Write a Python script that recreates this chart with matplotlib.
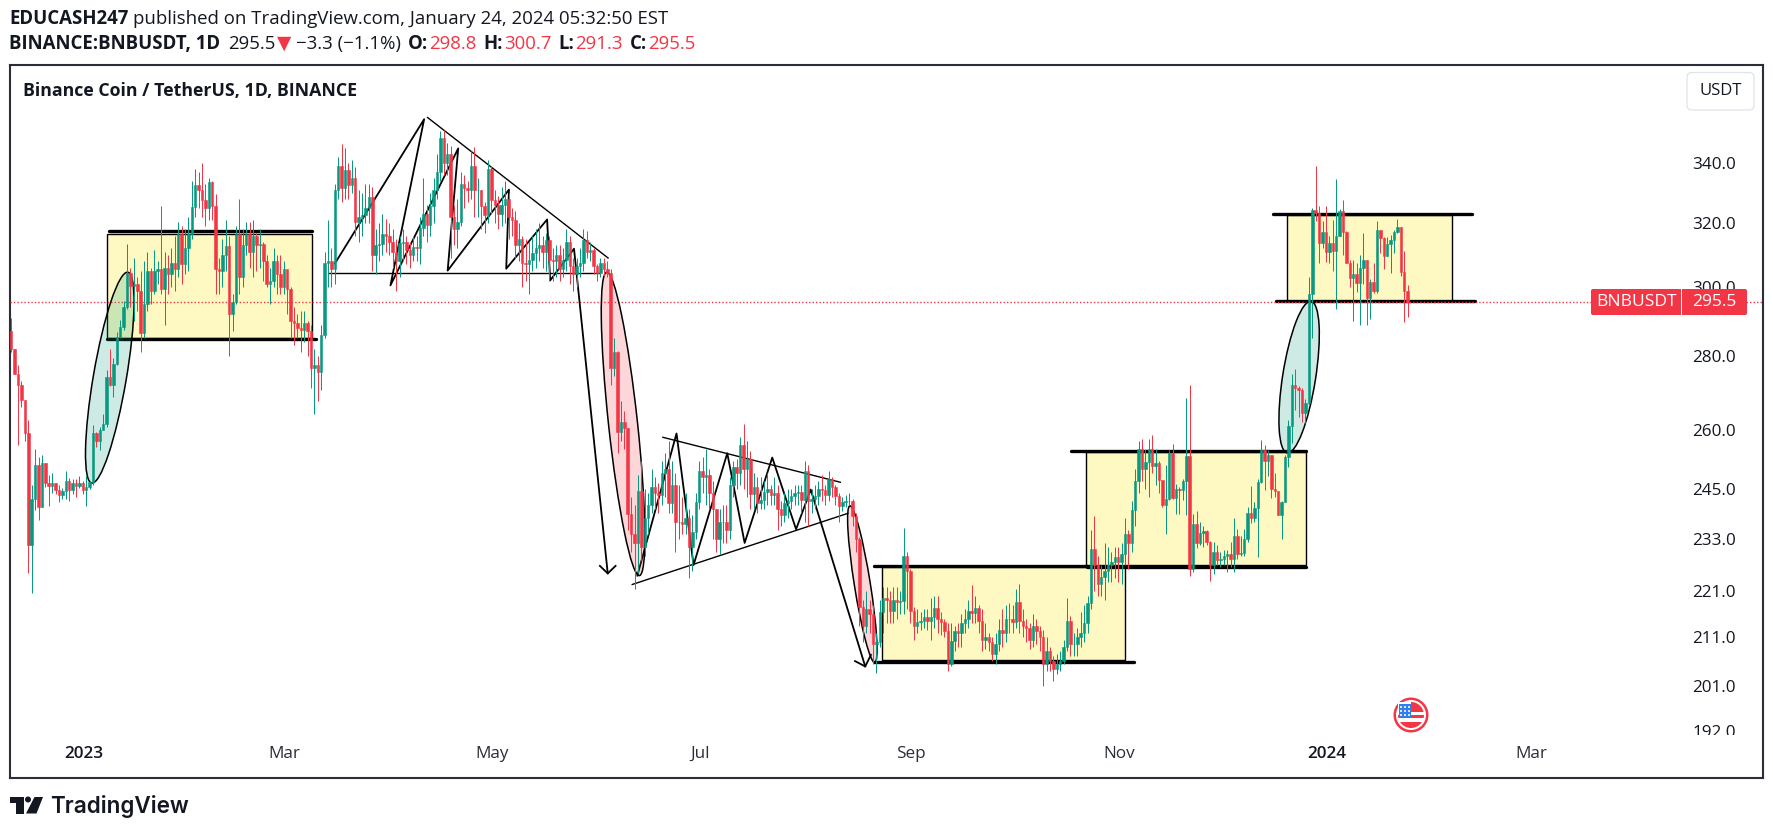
import numpy as np
import matplotlib
matplotlib.use('Agg')
import matplotlib.pyplot as plt
from matplotlib.patches import Rectangle, Ellipse, Circle, Polygon, FancyBboxPatch
from matplotlib.transforms import Affine2D, IdentityTransform

W, H = 1773, 833
plt.rcParams['font.family'] = ['Open Sans', 'DejaVu Sans']

# daily closes, highs, lows (BNBUSDT, last bar is 24 Jan 2024)
closes = [
    282, 275, 272, 268, 259, 231.5, 242.5, 251, 240.5, 251.5,
    246.4, 245.7, 246.4, 244.6, 243.4, 244.4, 247, 244.6, 246.4, 245.7,
    246.4, 244.6, 245.4, 246.6, 259, 257, 260, 261.4, 274, 272,
    277.8, 285.3, 288.4, 294, 304.5, 300.5, 301, 299, 286.5, 295,
    305, 299, 305, 305.5, 299.5, 306, 304, 307.5, 305.5, 316.5,
    307, 312, 316.5, 325.4, 332.5, 331, 327.5, 325, 333.5, 325.5,
    305.5, 305, 310, 312.7, 292, 295.5, 316.5, 303, 313, 316.5,
    311, 316, 313, 313.5, 308, 301, 302, 308, 304, 300,
    305.5, 299.5, 290, 289.5, 288, 287.5, 289.5, 287, 276.5, 277.5,
    275.5, 286, 307.5, 308, 305.5, 331, 339, 331.5, 337.5, 332.5,
    335, 320.5, 322, 322.5, 325, 328.5, 310, 313, 313.5, 316.5,
    316, 314, 311, 308, 313.7, 314, 311.5, 310, 312.5, 312,
    318.5, 323, 319.5, 325.5, 331, 337, 348.5, 340, 343, 322,
    318, 320.5, 333, 331.5, 331, 339, 331, 331, 325.5, 322.5,
    338, 327.5, 326, 323, 326, 328, 322, 321, 313, 315,
    307.5, 307, 308.5, 310.5, 312, 313, 311, 314.5, 308.5, 308,
    310, 305.5, 308.5, 314, 306.5, 304, 306.5, 307.5, 314.5, 311,
    311.5, 306.5, 304.5, 307.5, 305.5, 304.5, 276.5, 281, 259.5, 262,
    260.5, 238.9, 234, 232, 244.5, 231, 238, 241, 245.5, 244,
    243.5, 249, 250, 241.6, 246, 237, 237, 236.5, 238, 231,
    234.5, 241.7, 249.5, 248, 248.5, 244, 240, 233, 237, 237,
    235, 246, 250.3, 249, 256, 250, 252.5, 243.7, 245.5, 241.5, 242.3,
    244.2, 245, 243.5, 244, 240, 238.5, 241.5, 242, 243.3, 244,
    244.1, 242.3, 249.5, 242, 242.5, 243.3, 245, 244.8, 243.5, 247.5,
    245.5, 243.3, 240.7, 241.7, 242, 242, 238.3, 233, 217.5, 213.5,
    217, 216, 209.5, 210, 216.5, 219.5, 219, 216.7, 219, 218.7, 218.9,
    229, 225.5, 216.7, 213.5, 214.3, 214.5, 215.3, 214.5, 215.3, 217.3,
    215, 214.2, 212.4, 205.5, 210.3, 212.4, 212, 214, 215, 216.7,
    216.3, 217.3, 214.5, 210.5, 211, 210, 207.5, 209.6, 212.6, 211.8,
    215, 214.8, 214.3, 218.6, 214.4, 213.5, 213, 210.4, 213.5, 212.3,
    211, 205.4, 208, 206, 204.3, 205.4, 206, 209, 214.5, 209.5,
    209.5, 211, 212, 214, 218.3, 230.5, 226.8, 222.7, 224.1, 225.5,
    227, 227.5, 228.8, 227.7, 229.5, 234, 232, 239.7, 247, 255,
    250, 251.7, 255, 250.7, 251.5, 247.2, 241, 242.4,
    253.9, 242.7, 245, 244.8, 246.9, 253.3, 226, 236.5, 232, 234.3,
    234.7, 232.2, 226.9, 230, 228, 228.2, 229, 229.5, 228.3, 233.7,
    229.5, 229.7, 233, 239.2, 237.8, 240.2, 246.7, 254.7, 251.9, 253.4,
    245, 244.4, 238.7, 241.7, 253, 261, 272, 271, 270.7, 264.5,
    267, 298, 324.2, 323.2, 313.8, 317.3, 311, 313.6, 311.2, 316,
    324, 317.3, 307.6, 302.8, 304, 301.3, 306, 308.3, 296.7, 301.7,
    299, 317.8, 315.2, 309.7, 313.3, 314.7, 317.3, 318.8, 304.7, 298.8,
    295.5,
]
highs = [
    291, 282, 277.5, 273, 268, 262.5, 246, 255, 253, 253.5,
    251.5, 248.4, 248.8, 246.4, 245.9, 245.2, 249.3, 247.7, 247.3, 247.3,
    248.2, 246.8, 248.5, 246.9, 261.2, 259.4, 260.8, 264, 276, 282,
    279.5, 286.8, 290.3, 296, 313.5, 306, 309, 303, 305, 308,
    311, 306, 311.5, 308, 325.5, 311, 310, 312, 316, 320.5,
    319, 318, 322, 334, 338, 337, 340, 333, 335, 334,
    329.5, 309, 315, 321, 316, 298, 319, 328, 318, 320.5,
    320.5, 321, 317, 318, 314, 310, 306, 312, 310, 310,
    308, 305, 300, 294, 292, 293, 293, 290, 289, 282,
    280, 289, 311, 321, 312, 333, 342, 346.7, 345, 340,
    341, 338.5, 331, 330, 333, 333, 332, 318, 320, 323,
    321.5, 320, 318, 315, 316, 318, 316, 314, 316, 316,
    322, 335, 326, 330, 335, 343, 351, 351.5, 347, 346,
    326, 328, 337, 336, 334, 344, 345.5, 335, 331, 327,
    341, 339, 331, 329, 332, 334, 330, 325, 324, 320,
    316, 315, 314, 316, 318, 320, 316, 317, 316, 312,
    313, 313, 312, 318, 316, 309, 309, 312, 318, 317.6,
    314, 312, 307, 309, 309, 308, 305.5, 285, 281.5, 267.5,
    265, 260.5, 243, 241, 248.4, 252, 245, 244, 250, 248,
    246.5, 252, 254, 257, 252, 249, 246, 243, 244, 240,
    238.5, 244, 252, 253, 255, 250, 247, 240, 240, 241,
    241, 248, 252, 252.5, 258, 261.5, 257, 254.5, 249, 248, 248,
    247, 249, 246, 248, 246, 242, 244, 245, 245, 246,
    246, 246, 252, 251, 245, 246, 247, 248.5, 246, 249.5,
    248, 246, 244, 243, 243.5, 244, 242.5, 239, 233.5, 219,
    221, 219, 218, 212, 219, 222, 222, 221, 222, 222, 221,
    235.5, 230, 226, 217.5, 217, 216.5, 217, 217, 219.6, 220,
    220, 216.5, 215, 214, 214, 213.5, 214, 216, 217, 219,
    222.4, 220, 218, 217, 214, 212, 211, 212, 215, 217,
    218, 218.5, 218, 221.5, 222.5, 217, 215, 214, 216, 215,
    213.5, 212.5, 211, 209, 207, 207.5, 208, 210.5, 219.5, 215.5,
    212, 213, 216.5, 218, 220, 235, 238.4, 229, 227, 232,
    231, 230, 231, 231, 232, 238, 235, 242, 250, 257,
    257.5, 255, 257.5, 258.5, 255, 252, 247.2, 251,
    254.7, 256.2, 246.2, 245.5, 247.3, 268.5, 272, 238.8, 239.6, 237,
    236, 235, 232.5, 232.2, 231.5, 230, 230.4, 230.4, 232.2, 237.8,
    235.3, 233.7, 235.3, 240.5, 245.7, 241.8, 247.4, 257.4, 256, 254.7,
    253.4, 248.9, 244.4, 242.1, 253.4, 262.6, 274.9, 276.4, 271.6, 271.2,
    268.2, 303, 324.8, 339, 325.7, 320.8, 325.7, 316, 321, 334.4,
    324.5, 327.4, 317.5, 308.4, 308.4, 307.3, 310, 317, 308.3, 302.5,
    307.3, 320.8, 317.8, 315.7, 315.7, 316.3, 317.8, 321.4, 318.8, 311.2,
    300.7,
]
lows = [
    281, 275, 256, 266, 257, 225, 220.5, 239.8, 237.3, 240.5,
    245.5, 240.8, 244, 243.8, 241.7, 242.4, 242.4, 242, 243.6, 243,
    245.2, 243.8, 240.8, 245, 246, 255.6, 254.8, 259.8, 260.8, 271.7,
    268.6, 277.5, 285, 287.5, 293.5, 294, 290, 293, 281, 285,
    293, 295, 298, 301, 298, 289, 298, 300, 299, 303,
    301, 304, 305, 315, 322, 325, 322, 319, 321, 321,
    298, 298, 300, 305, 280, 287, 295, 298, 300, 310,
    306, 303, 305, 306, 302, 300, 295, 300, 298, 298,
    298, 292, 285, 283, 285, 281, 284, 280, 271, 264,
    267.5, 270.5, 285, 300, 300, 301, 328, 327, 328, 328,
    330, 316, 314, 316, 320, 320, 305, 304, 308, 310,
    311, 310, 306, 299, 303, 308, 307, 306, 308, 308,
    307, 316, 314, 316, 320, 328, 334, 336, 336, 309,
    313, 312, 319, 325, 327, 328, 322, 322, 318, 317,
    320, 323, 320, 318, 319, 320, 315, 316, 309, 308,
    300, 302, 298, 305, 306, 308, 306, 305, 302, 302,
    303, 302, 303, 305, 301, 299, 300, 303, 305, 309,
    308, 304, 302, 303, 303.5, 303, 272, 274.5, 254, 257,
    255, 235, 230, 221.5, 225, 228, 229, 234, 239, 240,
    239, 241, 243, 239, 239, 230, 233, 234, 234, 224,
    225.5, 233, 240, 244, 241, 240, 233, 230, 229.5, 232,
    232, 233, 243, 245, 246, 245, 243, 240, 240, 239, 240,
    240, 241, 241, 241, 235, 236, 237, 238, 240, 241,
    241, 239, 237, 236, 239, 240, 241, 242, 241, 242,
    243, 241, 237, 239.5, 240.5, 241, 236, 230, 213.3, 210,
    212, 212, 205.5, 203.5, 209, 212, 214, 214, 214, 215, 216,
    216, 217, 214, 210.5, 212, 212.5, 213, 212.5, 210.5, 213,
    212, 211.5, 211, 204, 205, 208, 209, 209, 212, 213,
    214, 214, 212, 208, 208.5, 208, 206, 205.5, 208, 209,
    210, 212, 212, 213, 212, 211, 210, 208.5, 209, 209.5,
    208, 201, 204, 204, 202, 203.4, 204, 205.5, 208, 207,
    207, 207, 209, 210, 212, 217, 221, 220, 220, 219,
    223, 223, 224, 223, 222.5, 227, 226, 230, 236, 244,
    247, 245, 243, 249, 246, 244, 240.5, 234,
    242.3, 242.5, 238.8, 238.8, 242.3, 238.7, 224.5, 225.3, 230.8, 231.5,
    231, 231.5, 223.2, 224.9, 226.9, 226.5, 226.9, 225.3, 226.5, 225.3,
    228.3, 229, 229, 232.2, 236.6, 237, 228.8, 246.4, 244.6, 248.2,
    242.7, 243, 238.6, 233, 241.8, 250.5, 256.6, 265.2, 263.4, 262,
    261.7, 266.5, 285, 320.6, 307.6, 312, 307.9, 307.6, 305, 293.6,
    315.8, 310, 307.5, 300, 290, 298.5, 289, 301, 289, 290.5,
    298.2, 298.3, 310.5, 305.5, 309.5, 304.5, 310.5, 317, 303.5, 289.8,
    291.3,
]
first_open = 287

price_ticks = [340, 320, 300, 280, 260, 245, 233, 221, 211, 201, 192]
month_days = [0, 59, 120, 181, 243, 304, 365, 425]
month_labels = ['2023', 'Mar', 'May', 'Jul', 'Sep', 'Nov', '2024', 'Mar']
last_price = 295.5

# drawings on the chart: day number since 1 Jan 2023 and price
boxes = [(7, 67, 285, 316.5), (234.3, 305.7, 206.3, 226.5),
         (294.4, 358.9, 226.9, 254.3), (353.4, 401.8, 295.8, 322.5)]
thick_lines = [(7.5, 67, 317.5), (7, 68.2, 284.7), (232.1, 294.7, 226.7),
               (232, 308.5, 205.9), (290, 358.9, 254.6), (294.5, 358.9, 226.4),
               (349.3, 407.7, 323), (350.2, 408.5, 295.8)]
ovals = [(2.4, 246.4, 13, 304.6, 33, '#089981'),
         (153.6, 304.6, 163.2, 224.5, 29, '#F23645'),
         (225, 240.8, 232.3, 205.7, 16, '#F23645'),
         (360.4, 295.8, 353.4, 254, 33, '#089981')]
zig1_days = [73.8, 100, 90.1, 110, 106.9, 124.9, 124.1, 136.1, 137, 144, 153.9]
zig1_prices = [307.3, 355.3, 300.6, 345, 305.1, 331, 305.7, 321.2, 302.1, 311.9, 225]
zig2_days = [162.6, 174.1, 179.1, 189, 194.1, 202.2, 209.2, 213.5, 229.5]
zig2_prices = [224.5, 259, 226.9, 253.9, 232, 252.8, 235.2, 244.8, 204.9]
thin_lines = [(72, 304.4, 151.3, 304.4), (101, 355.9, 154, 309),
              (170.1, 258, 222.2, 246.6), (161.1, 222.5, 224.4, 239)]
arrow_heads = [(151.6, 226.7, 153.9, 225, 156.2, 226.7),
               (226.5, 206, 229.5, 204.9, 231.2, 207.3)]

GREEN = '#089981'
RED = '#F23645'
DARK = '#131722'

fig = plt.figure(figsize=(W / 100, H / 100), dpi=100, facecolor='white')
ax = fig.add_axes([10 / W, (H - 777.7) / H, 1753 / W, 712.7 / H])
ax.set_yscale('log')
ax.set_xlim(-21.6, 493.1)
ax.set_ylim(183.2, 375.2)
for s in ax.spines.values():
    s.set_color('#2a2e39')
    s.set_linewidth(1.5)

# axis labels sit inside the frame like on TradingView
ax.minorticks_off()
ax.yaxis.tick_right()
ax.set_yticks(price_ticks)
ax.set_yticklabels(['%.1f' % p for p in price_ticks])
ax.tick_params(axis='y', which='both', length=0, pad=-51, labelsize=12.3, labelcolor=DARK)
ax.set_xticks(month_days)
ax.set_xticklabels(month_labels)
ax.tick_params(axis='x', length=0, pad=-23, labelsize=12.3, labelcolor='#2a2e39')
for lab in ax.get_xticklabels():
    if lab.get_text().startswith('20'):
        lab.set_fontweight('semibold')
        lab.set_color(DARK)

# candles, the bars sit a little right of the month labels
n = len(closes)
days = np.arange(388 - n + 1, 389) + 0.77
closes_a = np.array(closes, dtype=float)
opens_a = np.r_[first_open, closes_a[:-1]]
up = closes_a >= opens_a
colors = np.where(up, GREEN, RED)
wicks = ax.vlines(days, lows, highs, colors=colors, linewidth=0.72, zorder=6)
wicks.set_snap(True)
ax.bar(days, np.abs(closes_a - opens_a), bottom=np.minimum(opens_a, closes_a), width=0.72,
       color=colors, linewidth=0.4, edgecolor=colors, zorder=7)

# last price line
ax.axhline(last_price, color=RED, linewidth=1, linestyle=(0, (1, 1.5)), zorder=3)

# boxes and lines
for x0, x1, lo, hi in boxes:
    ax.add_patch(Rectangle((x0, lo), x1 - x0, hi - lo, facecolor='#FEF9C3', edgecolor='black',
                           linewidth=1, zorder=1))
for x0, x1, y in thick_lines:
    ax.plot([x0, x1], [y, y], color='black', linewidth=2.4, solid_capstyle='round', zorder=2)
for x0, y0, x1, y1 in thin_lines:
    ax.plot([x0, x1], [y0, y1], color='black', linewidth=1.0, zorder=4)
ax.plot(zig1_days, zig1_prices, color='black', linewidth=1.3, zorder=4)
ax.plot(zig2_days, zig2_prices, color='black', linewidth=1.3, zorder=4)
for x0, y0, x1, y1, x2, y2 in arrow_heads:
    ax.plot([x0, x1, x2], [y0, y1, y2], color='black', linewidth=1.3, zorder=4)

for d0, p0, d1, p1, wid, col in ovals:
    a = ax.transData.transform((d0, p0))
    b = ax.transData.transform((d1, p1))
    c = (a + b) / 2
    length = np.hypot(*(b - a))
    ang = np.degrees(np.arctan2(b[1] - a[1], b[0] - a[0]))
    ax.add_patch(Ellipse(c, length, wid, angle=ang, transform=IdentityTransform(),
                         facecolor=matplotlib.colors.to_rgba(col, 0.2), edgecolor='black',
                         linewidth=1.1, zorder=5))

# pixel helpers for everything that is not on the price scale (y from the top)
px = Affine2D().scale(1, -1).translate(0, H)
renderer = fig.canvas.get_renderer()


def text_run(x, y, parts, size):
    for s, color, weight, gap in parts:
        t = fig.text(x / W, 1 - y / H, s, color=color, fontweight=weight, fontsize=size, va='baseline')
        x += t.get_window_extent(renderer).width + gap


text_run(9, 24, [('EDUCASH247', DARK, 'bold', 5),
                 ('published on TradingView.com, January 24, 2024 05:32:50 EST', DARK, 'normal', 0)], 13.4)
text_run(9, 49, [('BINANCE:BNBUSDT, 1D', DARK, 'bold', 8), ('295.5', DARK, 'normal', 1),
                 ('\u25bc', RED, 'normal', 5), ('\u22123.3 (\u22121.1%)', DARK, 'normal', 7),
                 ('O:', DARK, 'bold', 1), ('298.8', RED, 'normal', 7),
                 ('H:', DARK, 'bold', 1), ('300.7', RED, 'normal', 7),
                 ('L:', DARK, 'bold', 1), ('291.3', RED, 'normal', 7),
                 ('C:', DARK, 'bold', 1), ('295.5', RED, 'normal', 0)], 13.4)
text_run(23, 96, [('Binance Coin / TetherUS, 1D, BINANCE', DARK, 'bold', 0)], 12.8)

# clip the lowest price label at the time axis
fig.add_artist(Rectangle((1680, 735), 70, 12, transform=px, facecolor='white', edgecolor='none', zorder=5))

# USDT button
fig.add_artist(FancyBboxPatch((1687, 72.5), 67, 37.5, boxstyle='round,pad=0,rounding_size=5', transform=px,
                              facecolor='white', edgecolor='#e0e3eb', linewidth=0.9, zorder=6))
fig.text(1720.5 / W, 1 - 91 / H, 'USDT', fontsize=12, color=DARK, ha='center', va='center', zorder=7)

# last price tag
fig.add_artist(FancyBboxPatch((1591, 289), 156, 26, boxstyle='round,pad=0,rounding_size=2', transform=px,
                              facecolor=RED, edgecolor='none', zorder=6))
fig.add_artist(Rectangle((1680.5, 289), 1, 26, transform=px, facecolor='white', edgecolor='none', zorder=7))
fig.text(1636 / W, 1 - 301.5 / H, 'BNBUSDT', fontsize=12.5, color='white', ha='center', va='center', zorder=8)
fig.text(1714 / W, 1 - 301.5 / H, '295.5', fontsize=12.5, color='white', ha='center', va='center', zorder=8)

# flag badge
fx, fy = 1411, 715
fig.add_artist(Circle((fx, fy), 17.5, transform=px, facecolor=RED, edgecolor='none', zorder=6))
fig.add_artist(Circle((fx, fy), 15, transform=px, facecolor='white', edgecolor='none', zorder=6))
fig.add_artist(Circle((fx, fy), 13, transform=px, facecolor=RED, edgecolor='none', zorder=6))
fig.add_artist(Rectangle((fx - 13, fy - 3), 26, 3, transform=px, facecolor='white', edgecolor='none', zorder=6))
fig.add_artist(Rectangle((fx - 13, fy + 3), 26, 4, transform=px, facecolor='white', edgecolor='none', zorder=6))
fig.add_artist(Rectangle((fx - 13, fy - 13), 13, 13, transform=px, facecolor='white', edgecolor='none', zorder=6))
fig.add_artist(Rectangle((fx - 12, fy - 11), 12, 13, transform=px, facecolor='#2f80ed', edgecolor='none', zorder=6))
for i in range(3):
    for j in range(3):
        fig.add_artist(Circle((fx - 10 + 4 * i, fy - 8 + 4 * j), 1, transform=px, facecolor='white',
                              edgecolor='none', zorder=7))

# TradingView logo
fig.add_artist(Polygon([(9.5, 797), (24, 797), (24, 813.5), (16, 813.5), (16, 803), (9.5, 803)], closed=True,
                       transform=px, facecolor=DARK, edgecolor='none'))
fig.add_artist(Circle((28, 799.5), 3, transform=px, facecolor=DARK, edgecolor='none'))
fig.add_artist(Polygon([(34.5, 797), (43, 797), (36.5, 813.5), (26, 813.5)], closed=True,
                       transform=px, facecolor=DARK, edgecolor='none'))
fig.text(50 / W, 1 - 813.5 / H, 'TradingView', fontsize=16.2, family=['Inter', 'DejaVu Sans'], fontweight='semibold',
         color=DARK, va='baseline')

fig.savefig('out.png', dpi=100)
